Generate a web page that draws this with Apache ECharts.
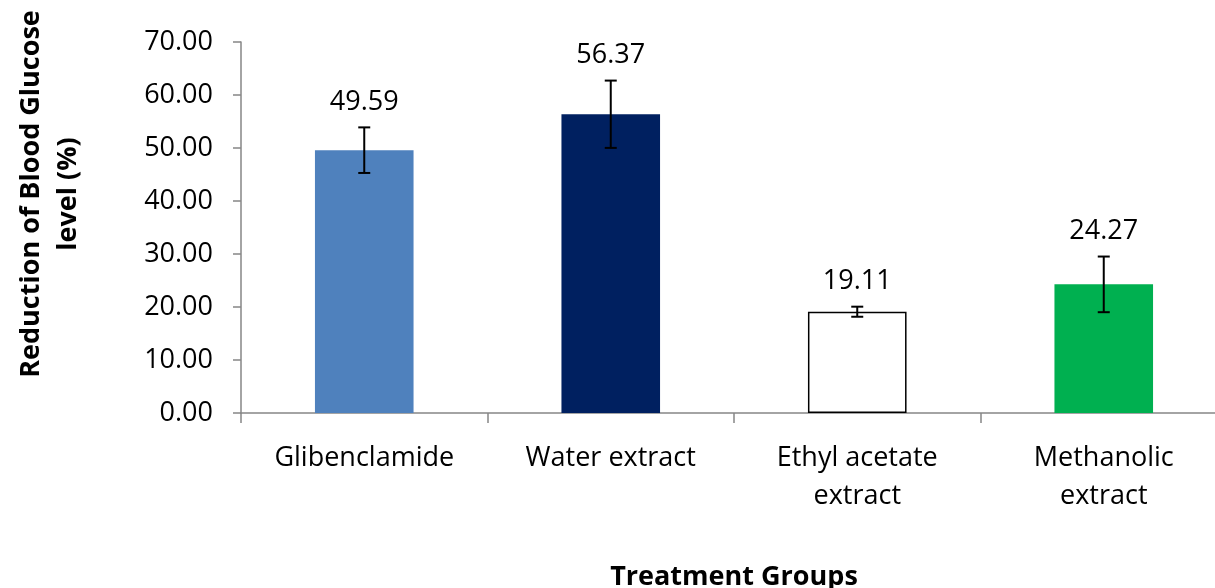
<!DOCTYPE html>
<html>
<head>
<meta charset="utf-8">
<script src="https://cdn.jsdelivr.net/npm/echarts@6/dist/echarts.min.js"></script>
<style>
  html, body { margin: 0; padding: 0; background: #fff; }
  #main { width: 1215px; height: 588px; }
</style>
</head>
<body>
<div id="main"></div>
<script>
// chart data
var categories = ['Glibenclamide', 'Water extract', 'Ethyl acetate\nextract', 'Methanolic\nextract'];
var values = [49.59, 56.37, 19.11, 24.27];
var errors = [4.3, 6.35, 0.95, 5.25];
var barColors = ['#4F81BD', '#002060', '#FFFFFF', '#00B050'];
var yTicks = [0, 10, 20, 30, 40, 50, 60, 70];

var font = 'Open Sans';

var barData = values.map(function (v, i) {
    var item = { value: v, itemStyle: { color: barColors[i] } };
    if (barColors[i] === '#FFFFFF') {
        item.itemStyle.borderColor = '#000';
        item.itemStyle.borderWidth = 1.5;
    }
    return item;
});
var errData = values.map(function (v, i) { return [i, v, errors[i]]; });

var myChart = echarts.init(document.getElementById('main'));
var option = {
    animation: false,
    grid: { left: 241, right: -12, top: 42, bottom: 175, outerBoundsMode: 'none' },
    xAxis: {
        type: 'category',
        data: categories,
        axisLine: { lineStyle: { color: '#868686', width: 1.5 } },
        axisTick: { show: true, length: 10, lineStyle: { color: '#868686', width: 1.5 } },
        axisLabel: {
            color: '#000', fontFamily: font, fontSize: 27, margin: 26,
            lineHeight: 38, interval: 0
        },
        name: 'Treatment Groups',
        nameLocation: 'middle',
        nameGap: 151,
        nameTextStyle: { color: '#000', fontFamily: font, fontSize: 27, fontWeight: 'bold' }
    },
    yAxis: {
        type: 'value',
        min: yTicks[0],
        max: yTicks[yTicks.length - 1],
        interval: 10,
        splitLine: { show: false },
        axisLine: { show: true, lineStyle: { color: '#868686', width: 1.5 } },
        axisTick: { show: true, length: 8, lineStyle: { color: '#868686', width: 1.5 } },
        axisLabel: {
            color: '#000', fontFamily: font, fontSize: 27, margin: 28,
            formatter: function (v) { return v.toFixed(2); }
        }
    },
    graphic: [{
        type: 'text',
        x: 50, y: 194,
        rotation: Math.PI / 2,
        style: {
            text: 'Reduction of Blood Glucose\nlevel (%)',
            fill: '#000',
            font: 'bold 27px "Open Sans"',
            align: 'center',
            verticalAlign: 'middle',
            lineHeight: 37
        }
    }],
    series: [
        {
            type: 'bar',
            data: barData,
            barWidth: '40%'
        },
        {
            type: 'custom',
            data: errData,
            z: 10,
            renderItem: function (params, api) {
                var i = api.value(0), v = api.value(1), e = api.value(2);
                var top = api.coord([i, v + e]);
                var bot = api.coord([i, v - e]);
                var cap = 6;
                var ls = { stroke: '#000', lineWidth: 2 };
                return {
                    type: 'group',
                    children: [
                        { type: 'line', shape: { x1: top[0], y1: top[1], x2: bot[0], y2: bot[1] }, style: ls },
                        { type: 'line', shape: { x1: top[0] - cap, y1: top[1], x2: top[0] + cap, y2: top[1] }, style: ls },
                        { type: 'line', shape: { x1: bot[0] - cap, y1: bot[1], x2: bot[0] + cap, y2: bot[1] }, style: ls },
                        {
                            type: 'text',
                            x: top[0], y: top[1] - 12,
                            style: {
                                text: v.toFixed(2), fill: '#000',
                                font: '27px "Open Sans"',
                                align: 'center', verticalAlign: 'bottom'
                            }
                        }
                    ]
                };
            }
        }
    ]
};
myChart.setOption(option);
</script>
</body>
</html>
